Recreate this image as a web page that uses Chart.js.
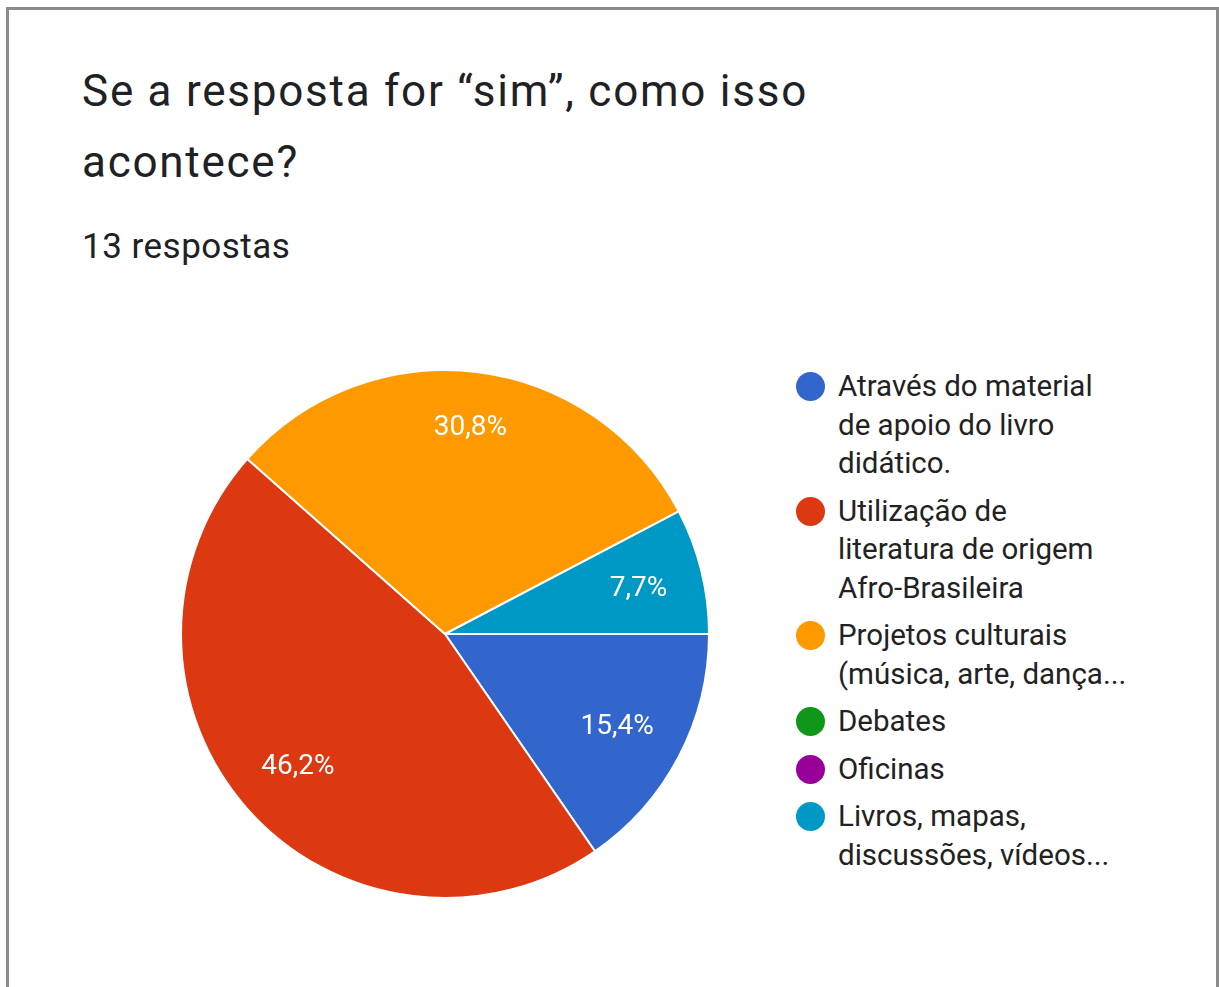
<!DOCTYPE html>
<html lang="pt-BR">
<head>
<meta charset="utf-8">
<title>Se a resposta for “sim”, como isso acontece?</title>
<script src="https://cdn.jsdelivr.net/npm/chart.js@4.4.1/dist/chart.umd.min.js"></script>
<style>
  html, body { margin: 0; padding: 0; background: #fff; }
  body {
    width: 1219px; height: 987px; overflow: hidden; position: relative;
    font-family: Roboto, "Noto Sans", sans-serif; color: #202124;
  }
  .card {
    position: absolute; left: 6px; top: 7px; width: 1213px; height: 1010px;
    border: 3px solid #8b8b8b; box-sizing: border-box;
  }
  .title {
    position: absolute; left: 82px; top: 56px; margin: 0;
    font-size: 44px; line-height: 71px; font-weight: 400; letter-spacing: 1.75px;
  }
  .count {
    position: absolute; left: 82px; top: 229px;
    font-size: 35px; line-height: 35px; letter-spacing: 0.5px;
  }
  #chartBox { position: absolute; left: 180px; top: 369px; width: 530px; height: 530px; }
  #legend {
    position: absolute; left: 795px; top: 367px; margin: 0; padding: 0; list-style: none;
    font-size: 29.5px; line-height: 38.5px; color: #222;
  }
  #legend li { position: relative; padding-left: 43px; margin-bottom: 9px; }
  #legend .dot {
    position: absolute; left: 1px; top: 5px; width: 29px; height: 29px; border-radius: 50%;
  }
</style>
</head>
<body>
<div class="card"></div>
<h1 class="title">Se a resposta for “sim”, como isso<br>acontece?</h1>
<div class="count">13 respostas</div>
<div id="chartBox"><canvas id="pieChart"></canvas></div>
<ul id="legend"></ul>

<script>
// answer options, each split into the lines shown in the legend
const categories = [
    ['Através do material', 'de apoio do livro', 'didático.'],
    ['Utilização de', 'literatura de origem', 'Afro-Brasileira'],
    ['Projetos culturais', '(música, arte, dança...'],
    ['Debates'],
    ['Oficinas'],
    ['Livros, mapas,', 'discussões, vídeos...']
];
// number of answers per option (13 in total)
const responses = [2, 6, 4, 0, 0, 1];
const sliceColors = ['#3366cc', '#dc3912', '#ff9900', '#109618', '#990099', '#0099c6'];

// Percent text inside each non-empty slice; wide labels sit a bit closer to the centre
const sliceLabels = {
    id: 'sliceLabels',
    afterDatasetsDraw(chart) {
        const ctx = chart.ctx;
        const values = chart.data.datasets[0].data;
        const total = values.reduce((a, b) => a + b, 0);
        const meta = chart.getDatasetMeta(0);
        const fontSize = 28;
        ctx.save();
        ctx.font = fontSize + 'px Roboto, sans-serif';
        ctx.fillStyle = '#ffffff';
        ctx.textAlign = 'center';
        ctx.textBaseline = 'alphabetic';
        meta.data.forEach((arc, i) => {
            if (!values[i]) return;
            const p = arc.getProps(['x', 'y', 'startAngle', 'endAngle', 'outerRadius'], true);
            const mid = (p.startAngle + p.endAngle) / 2;
            const text = (values[i] / total * 100).toFixed(1).replace('.', ',') + '%';
            const halfW = ctx.measureText(text).width / 2;
            const halfH = 10;
            const extent = halfW * Math.abs(Math.cos(mid)) + halfH * Math.abs(Math.sin(mid));
            const r = p.outerRadius * 0.835 - extent * 0.7;
            const cx = p.x + Math.cos(mid) * r;
            const cy = p.y + Math.sin(mid) * r;
            ctx.fillText(text, cx, cy + fontSize * 0.355);
        });
        ctx.restore();
    }
};

const chart = new Chart(document.getElementById('pieChart'), {
    type: 'pie',
    data: {
        labels: categories,
        datasets: [{
            data: responses,
            backgroundColor: sliceColors,
            borderColor: '#ffffff',
            borderWidth: 2
        }]
    },
    options: {
        responsive: true,
        maintainAspectRatio: false,
        animation: false,
        rotation: 90,
        layout: { padding: 0 },
        plugins: {
            legend: { display: false },
            tooltip: { enabled: false }
        }
    },
    plugins: [sliceLabels]
});

// Legend built from the chart's own labels and colours
const legendEl = document.getElementById('legend');
chart.data.labels.forEach((lines, i) => {
    const li = document.createElement('li');
    const dot = document.createElement('span');
    dot.className = 'dot';
    dot.style.background = chart.data.datasets[0].backgroundColor[i];
    li.appendChild(dot);
    lines.forEach((line, k) => {
        if (k) li.appendChild(document.createElement('br'));
        li.appendChild(document.createTextNode(line));
    });
    legendEl.appendChild(li);
});
</script>
</body>
</html>
